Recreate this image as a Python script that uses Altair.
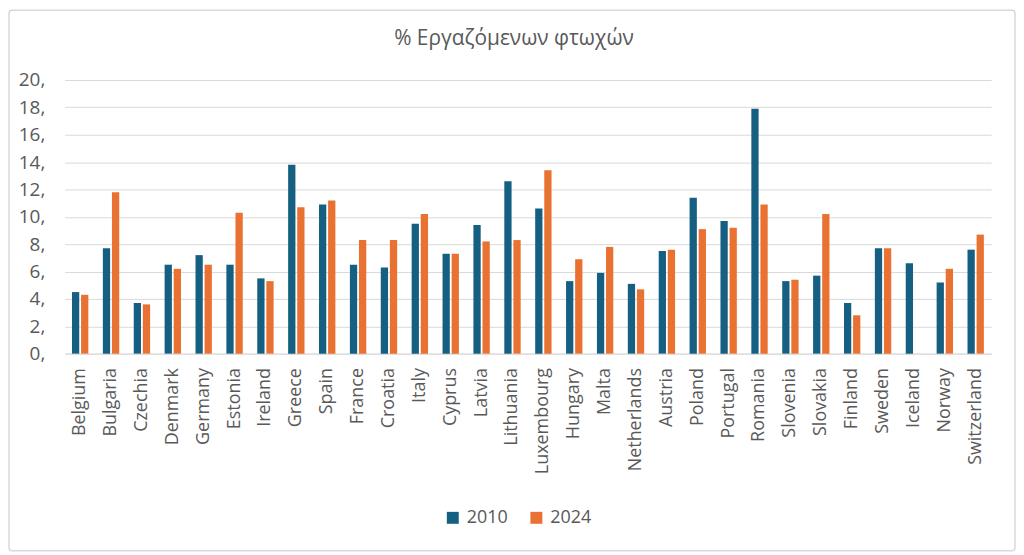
import altair as alt
import pandas as pd

countries = ["Belgium", "Bulgaria", "Czechia", "Denmark", "Germany", "Estonia", "Ireland",
             "Greece", "Spain", "France", "Croatia", "Italy", "Cyprus", "Latvia", "Lithuania",
             "Luxembourg", "Hungary", "Malta", "Netherlands", "Austria", "Poland", "Portugal",
             "Romania", "Slovenia", "Slovakia", "Finland", "Sweden", "Iceland", "Norway",
             "Switzerland"]
v2010 = [4.5, 7.7, 3.7, 6.5, 7.2, 6.5, 5.5, 13.8, 10.9, 6.5, 6.3, 9.5, 7.3, 9.4, 12.6,
         10.6, 5.3, 5.9, 5.1, 7.5, 11.4, 9.7, 17.9, 5.3, 5.7, 3.7, 7.7, 6.6, 5.2, 7.6]
v2024 = [4.3, 11.8, 3.6, 6.2, 6.5, 10.3, 5.3, 10.7, 11.2, 8.3, 8.3, 10.2, 7.3, 8.2, 8.3,
         13.4, 6.9, 7.8, 4.7, 7.6, 9.1, 9.2, 10.9, 5.4, 10.2, 2.8, 7.7, None, 6.2, 8.7]
years = ["2010", "2024"]
colors = ["#156082", "#E97132"]
title_text = "% Εργαζόμενων φτωχών"

rows = []
for c, a, b in zip(countries, v2010, v2024):
    rows.append({"country": c, "year": years[0], "value": a})
    if b is not None:
        rows.append({"country": c, "year": years[1], "value": b})
df = pd.DataFrame(rows)

FONT = "Open Sans"
TXT = "#595959"
GRID = "#D9D9D9"

W, H = 931, 275
PL, PT, PR, PB = 57, 71, 25, 199

bars = alt.Chart(df).mark_bar().encode(
    x=alt.X("country:N", sort=countries, title=None,
            scale=alt.Scale(paddingInner=0.47, paddingOuter=0.235),
            axis=alt.Axis(labelAngle=270, labelAlign="right", labelBaseline="middle",
                          ticks=False, labelPadding=14, domain=True, domainColor=GRID,
                          labelFontSize=18, labelColor=TXT, labelFont=FONT, grid=False)),
    xOffset=alt.XOffset("year:N", scale=alt.Scale(paddingInner=0.2, paddingOuter=0)),
    y=alt.Y("value:Q", title=None,
            scale=alt.Scale(domain=[0, 20], nice=False),
            axis=alt.Axis(values=list(range(0, 21, 2)), labelExpr="datum.value + ','",
                          domain=False, ticks=False, labelPadding=20, gridColor=GRID,
                          labelFontSize=19, labelColor=TXT, labelFont=FONT)),
    color=alt.Color("year:N", scale=alt.Scale(domain=years, range=colors),
                    legend=alt.Legend(title=None, orient="none", direction="horizontal",
                                      legendX=381, legendY=431, symbolType="square",
                                      symbolSize=144, symbolStrokeWidth=0,
                                      labelFontSize=18, labelColor=TXT, labelFont=FONT,
                                      labelOffset=5, columnPadding=19)),
)

border = alt.Chart(pd.DataFrame({"k": [0]})).mark_rect(
    fill=None, stroke=GRID, strokeWidth=1.5, cornerRadius=3
).encode(
    x=alt.value(-PL + 1), x2=alt.value(W + PR - 1),
    y=alt.value(-PT + 1), y2=alt.value(H + PB - 1),
)

title = alt.Chart(pd.DataFrame({"t": [title_text]})).mark_text(
    font=FONT, fontSize=21, color=TXT, align="center", baseline="alphabetic"
).encode(
    text="t:N", x=alt.value(W / 2 - 14), y=alt.value(-35),
)

chart = alt.layer(bars, border, title).properties(
    width=W, height=H,
    autosize=alt.AutoSizeParams(type="none"),
    padding={"left": PL, "top": PT, "right": PR, "bottom": PB},
).configure_view(stroke=None)

chart.save("out.html", embed_options={"renderer": "svg", "actions": False})
